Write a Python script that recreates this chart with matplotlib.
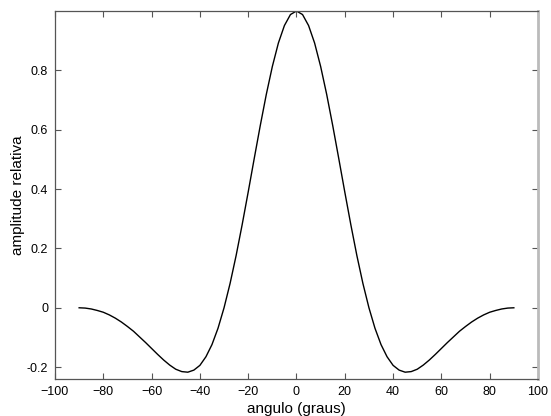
import numpy as np
import matplotlib
matplotlib.use('Agg')
import matplotlib.pyplot as plt

plt.rcParams['font.family'] = ['Liberation Sans', 'DejaVu Sans']

# angulo (graus), passo de 2.5
angulo = np.arange(-90, 92.5, 2.5)

# amplitude relativa (-90 .. 90)
amplitude = [
    0.000, -0.001, -0.004, -0.009, -0.015, -0.024, -0.035, -0.048, -0.063,
    -0.079, -0.098, -0.117, -0.137, -0.157, -0.176, -0.193, -0.207, -0.215,
    -0.217, -0.210, -0.194, -0.165, -0.124, -0.069, 0.000, 0.082, 0.176,
    0.280, 0.390, 0.503, 0.614, 0.719, 0.813, 0.892, 0.951, 0.988,
    1.000,
    0.988, 0.951, 0.892, 0.813, 0.719, 0.614, 0.503, 0.390, 0.280,
    0.176, 0.082, 0.000, -0.069, -0.124, -0.165, -0.194, -0.210, -0.217,
    -0.215, -0.207, -0.193, -0.176, -0.157, -0.137, -0.117, -0.098, -0.079,
    -0.063, -0.048, -0.035, -0.024, -0.015, -0.009, -0.004, -0.001, 0.000,
]

xticks = [-100, -80, -60, -40, -20, 0, 20, 40, 60, 80, 100]
yticks = [-0.2, 0, 0.2, 0.4, 0.6, 0.8]
yticklabels = ['-0.2', '0', '0.2', '0.4', '0.6', '0.8']

fig = plt.figure(figsize=(5.51, 4.16), dpi=100)
ax = fig.add_axes([0.0998, 0.0889, 0.8766, 0.8847])

ax.plot(angulo, amplitude, color='black', linewidth=1.0)

ax.set_xlim(-100, 100)
ax.set_ylim(-0.24, 1.0)
ax.set_xticks(xticks)
ax.set_yticks(yticks)
ax.set_yticklabels(yticklabels)

ax.tick_params(direction='in', length=4, width=0.8, color='#555555',
               labelsize=9, top=True, right=True, pad=5)

for side in ['left', 'bottom', 'top']:
    ax.spines[side].set_color('#555555')
    ax.spines[side].set_linewidth(0.9)
ax.spines['right'].set_color('#bbbbbb')
ax.spines['right'].set_linewidth(2)

ax.set_xlabel('angulo (graus)', fontsize=11, labelpad=3)
ax.set_ylabel('amplitude relativa', fontsize=11, labelpad=1)

fig.savefig('out.png', dpi=100)
